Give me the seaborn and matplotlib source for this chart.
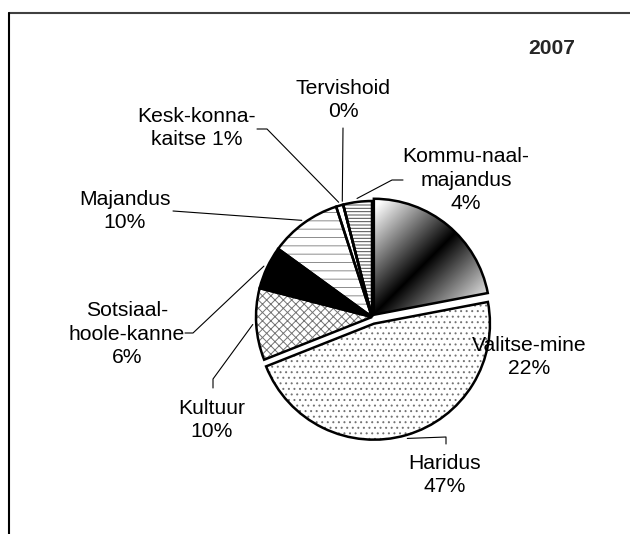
import numpy as np
import matplotlib
matplotlib.use('Agg')
import matplotlib.pyplot as plt
import matplotlib.patches as mpatches
from matplotlib.lines import Line2D
import seaborn as sns

# andmed (2007)
names = ['Valitse-mine', 'Haridus', 'Kultuur', 'Sotsiaal-\nhoole-kanne', 'Majandus',
         'Kesk-konna-\nkaitse', 'Tervishoid', 'Kommu-naal-\nmajandus']
shares = [22, 47, 10, 6, 10, 1, 0, 4]
pct_sep = ['\n', '\n', '\n', '\n', '\n', ' ', '\n', '\n']
title = '2007'

# stiil
explode = [0.025, 0.06, 0, 0, 0, 0, 0, 0]
faces = ['none', 'white', 'white', 'black', 'white', 'white', 'white', 'white']
hatches = [None, '...', 'xxxx', None, '--', None, None, '-----']
hatch_cols = ['black', '0.45', '0.45', 'black', '0.55', 'black', 'black', '0.3']

# paigutus pikslites (630x534 pilt)
W, H = 630, 534
R = 116
cx, cy = 372, 317
label_px = [(529, 357), (445, 475), (212, 420), (127, 334), (125, 211),
            (197, 128), (343, 100), (466, 180)]
leader_px = [None, [(446, 444), (446, 437)], [(213, 388), (213, 379)],
             [(185, 333), (193, 333)], [(173, 211)], [(257, 129), (267, 129)],
             [(343, 128)], [(403, 180), (392, 180)]]


def to_data(x, y):
    return (x - cx) / R, (cy - y) / R


sns.set_theme(style='white')
plt.rcParams['font.family'] = ['Liberation Sans', 'DejaVu Sans']
plt.rcParams['hatch.linewidth'] = 0.7

fig = plt.figure(figsize=(W / 100, H / 100), dpi=100)
ax = fig.add_axes([0, 0, 1, 1])

wedges, _ = ax.pie(shares, startangle=90, counterclock=False, explode=explode,
                   radius=1, wedgeprops=dict(linewidth=0))

for w, fc, h, hc in zip(wedges, faces, hatches, hatch_cols):
    w.set_facecolor(fc)
    w.set_edgecolor(hc)
    w.set_linewidth(0)
    if h:
        w.set_hatch(h)
    # must kontuur eraldi
    ax.add_patch(mpatches.Wedge(w.center, w.r, w.theta1, w.theta2, fill=False,
                                edgecolor='black', linewidth=1.8, zorder=3))

# gradient "Valitse-mine" sektorile
gx = np.linspace(-0.1, 1.2, 300)
GX, GY = np.meshgrid(gx, gx)
shade = np.clip(np.abs(GX - GY) / np.sqrt(2) / 0.65, 0, 1)
w0 = wedges[0]
ox, oy = w0.center
im = ax.imshow(shade, cmap='gray', vmin=0, vmax=1, origin='lower',
               extent=(ox - 0.1, ox + 1.2, oy - 0.1, oy + 1.2),
               interpolation='bilinear', zorder=2)
im.set_clip_path(w0)

# sildid ja juhtjooned
for i, w in enumerate(wedges):
    lx, ly = to_data(*label_px[i])
    ax.text(lx, ly, f'{names[i]}{pct_sep[i]}{shares[i]}%', ha='center', va='center',
            fontsize=15.2, linespacing=1.3, color='black', zorder=4)
    if leader_px[i] is None:
        continue
    mid = np.deg2rad((w.theta1 + w.theta2) / 2)
    end = (w.center[0] + 1.03 * w.r * np.cos(mid), w.center[1] + 1.03 * w.r * np.sin(mid))
    pts = [to_data(*p) for p in leader_px[i]] + [end]
    ax.plot([p[0] for p in pts], [p[1] for p in pts], color='black', lw=0.8, zorder=4)

ax.set_xlim((0 - cx) / R, (W - cx) / R)
ax.set_ylim((cy - H) / R, cy / R)
ax.set_aspect('auto')
ax.axis('off')

fig.text(552 / W, 1 - 48 / H, title, ha='center', va='center', fontsize=15.2,
         fontweight='bold')

# raam
fig.add_artist(Line2D([9 / W, 1], [1 - 13 / H, 1 - 13 / H], transform=fig.transFigure,
                      color='#404040', lw=1.5))
fig.add_artist(Line2D([9 / W, 9 / W], [1 - 13 / H, 0], transform=fig.transFigure,
                      color='black', lw=1.5))

fig.savefig('out.png', dpi=100, facecolor='white')
